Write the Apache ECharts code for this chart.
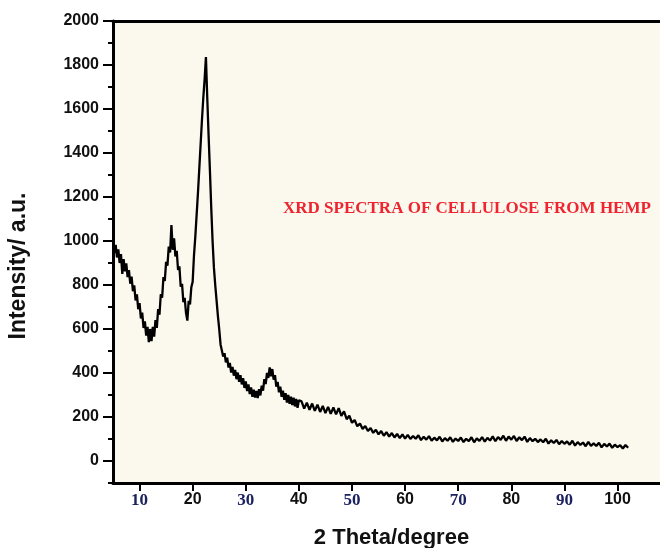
<!DOCTYPE html>
<html>
<head>
<meta charset="utf-8">
<script src="https://cdn.jsdelivr.net/npm/echarts@6/dist/echarts.min.js"></script>
<style>
	html, body { margin: 0; padding: 0; background: #fff; }
	#xrdChart { width: 660px; height: 548px; }
</style>
</head>
<body>
<div id="xrdChart"></div>
<script>
	// 2θ from 5 to 40, every 0.25 degree
	const lowStart = 5, lowStep = 0.25
	const intensityLow = [
		997, 946, 982, 925,
		962, 900, 940, 850,
		918, 862, 898, 836,
		868, 806, 838, 772,
		798, 730, 758, 690,
		718, 648, 674, 605,
		635, 570, 610, 540,
		600, 545, 610, 565,
		640, 605, 690, 665,
		758, 742, 836, 818,
		905, 888, 975, 948,
		1072, 960, 1012, 930,
		955, 868, 885, 792,
		805, 722, 742, 672,
		638, 728, 712, 790,
		815, 935, 1020, 1120,
		1220, 1330, 1440, 1550,
		1650, 1735, 1836, 1650,
		1480, 1320, 1150, 1000,
		880, 800, 730, 660,
		600, 530, 522, 475,
		490, 448, 470, 425,
		446, 402, 428, 388,
		414, 372, 402, 360,
		390, 348, 376, 332,
		362, 318, 348, 304,
		334, 292, 324, 288,
		318, 286, 326, 298,
		342, 320, 372, 350,
		400, 378, 425, 385,
		418, 370, 390, 338,
		360, 312, 338, 292,
		320, 278, 308, 266,
		300, 260, 292, 254,
		288, 248, 282, 242,
		276
	]
	// 2θ from 40.5 to 102, every 0.5 degree
	const highStart = 40.5, highStep = 0.5
	const intensityHigh = [
		271, 238, 265, 233, 261, 228, 256, 223, 250, 218,
		246, 214, 243, 212, 240, 205, 226, 190, 206, 174,
		186, 158, 170, 146, 159, 136, 150, 128, 142, 121,
		136, 115, 131, 111, 127, 107, 123, 104, 121, 102,
		119, 100, 114, 101, 117, 95, 110, 97, 113, 92,
		106, 94, 110, 89, 104, 92, 108, 87, 102, 91,
		107, 86, 101, 90, 108, 85, 103, 91, 109, 88,
		105, 93, 112, 90, 109, 96, 115, 92, 111, 97,
		114, 91, 108, 95, 111, 87, 104, 90, 101, 86,
		98, 85, 101, 79, 94, 82, 96, 76, 91, 78,
		89, 74, 92, 70, 86, 73, 84, 67, 87, 69,
		80, 68, 83, 62, 78, 66, 79, 60, 74, 63,
		72, 57, 73, 60
	]
	const xTicks = [10, 20, 30, 40, 50, 60, 70, 80, 90, 100]
	const yTicks = [0, 200, 400, 600, 800, 1000, 1200, 1400, 1600, 1800, 2000]

	const spectrum = intensityLow.map((v, i) => [lowStart + i * lowStep, v])
		.concat(intensityHigh.map((v, i) => [highStart + i * highStep, v]))

	const chart = echarts.init(document.getElementById('xrdChart'))
	const option = {
		animation: false,
		title: {
			text: 'XRD SPECTRA OF CELLULOSE FROM HEMP',
			left: 283,
			top: 200,
			padding: 0,
			textStyle: {
				fontFamily: 'Liberation Serif',
				fontWeight: 'bold',
				fontSize: 17,
				color: '#ee2530'
			}
		},
		grid: {
			left: 113,
			top: 21,
			right: 0,
			bottom: 65,
			show: true,
			backgroundColor: '#fbf8ed',
			borderWidth: 0,
			outerBoundsMode: 'none'
		},
		xAxis: [{
			type: 'value',
			min: 5,
			max: 108,
			name: '2 Theta/degree',
			nameLocation: 'middle',
			nameGap: 44,
			nameTextStyle: {
				fontFamily: 'Liberation Sans',
				fontWeight: 'bold',
				fontSize: 22,
				color: '#111',
				padding: [0, 0, 0, 10]
			},
			axisLine: { show: true, onZero: false, lineStyle: { color: '#000', width: 3 } },
			axisTick: { show: true, length: 8, customValues: xTicks, lineStyle: { color: '#000', width: 2 } },
			axisLabel: {
				customValues: xTicks,
				margin: 9,
				formatter: v => (v / 10) % 2 ? '{s|' + v + '}' : '{b|' + v + '}',
				rich: {
					s: { fontFamily: 'Liberation Serif', fontWeight: 'bold', fontSize: 17, color: '#1c2260', padding: [0, 0, 6, 0] },
					b: { fontFamily: 'Liberation Sans', fontWeight: 'bold', fontSize: 16, color: '#111' }
				}
			},
			splitLine: { show: false }
		}, {
			// top frame line
			type: 'value',
			position: 'top',
			min: 5,
			max: 108,
			axisLine: { show: true, onZero: false, lineStyle: { color: '#000', width: 3 } },
			axisTick: { show: false },
			axisLabel: { show: false },
			splitLine: { show: false }
		}],
		yAxis: [{
			type: 'value',
			min: -100,
			max: 2000,
			interval: 100,
			axisLine: { show: true, onZero: false, lineStyle: { color: '#000', width: 3 } },
			axisTick: { show: true, length: 5, lineStyle: { color: '#000', width: 2 } },
			axisLabel: { show: false },
			splitLine: { show: false }
		}, {
			type: 'value',
			min: -100,
			max: 2000,
			position: 'left',
			name: 'Intensity/ a.u.',
			nameLocation: 'middle',
			nameGap: 83,
			nameTextStyle: {
				fontFamily: 'Liberation Sans',
				fontWeight: 'bold',
				fontSize: 23,
				color: '#111',
				padding: [0, 28, 0, 0]
			},
			axisLine: { show: false, onZero: false },
			axisTick: { show: true, length: 10, customValues: yTicks, lineStyle: { color: '#000', width: 2 } },
			axisLabel: {
				customValues: yTicks,
				margin: 14,
				formatter: v => String(v),
				fontFamily: 'Liberation Sans',
				fontWeight: 'bold',
				fontSize: 16,
				color: '#111'
			},
			splitLine: { show: false }
		}],
		series: [{
			type: 'line',
			data: spectrum,
			showSymbol: false,
			xAxisIndex: 0,
			yAxisIndex: 0,
			lineStyle: { color: '#000', width: 2.3 }
		}]
	}
	chart.setOption(option)
</script>
</body>
</html>
